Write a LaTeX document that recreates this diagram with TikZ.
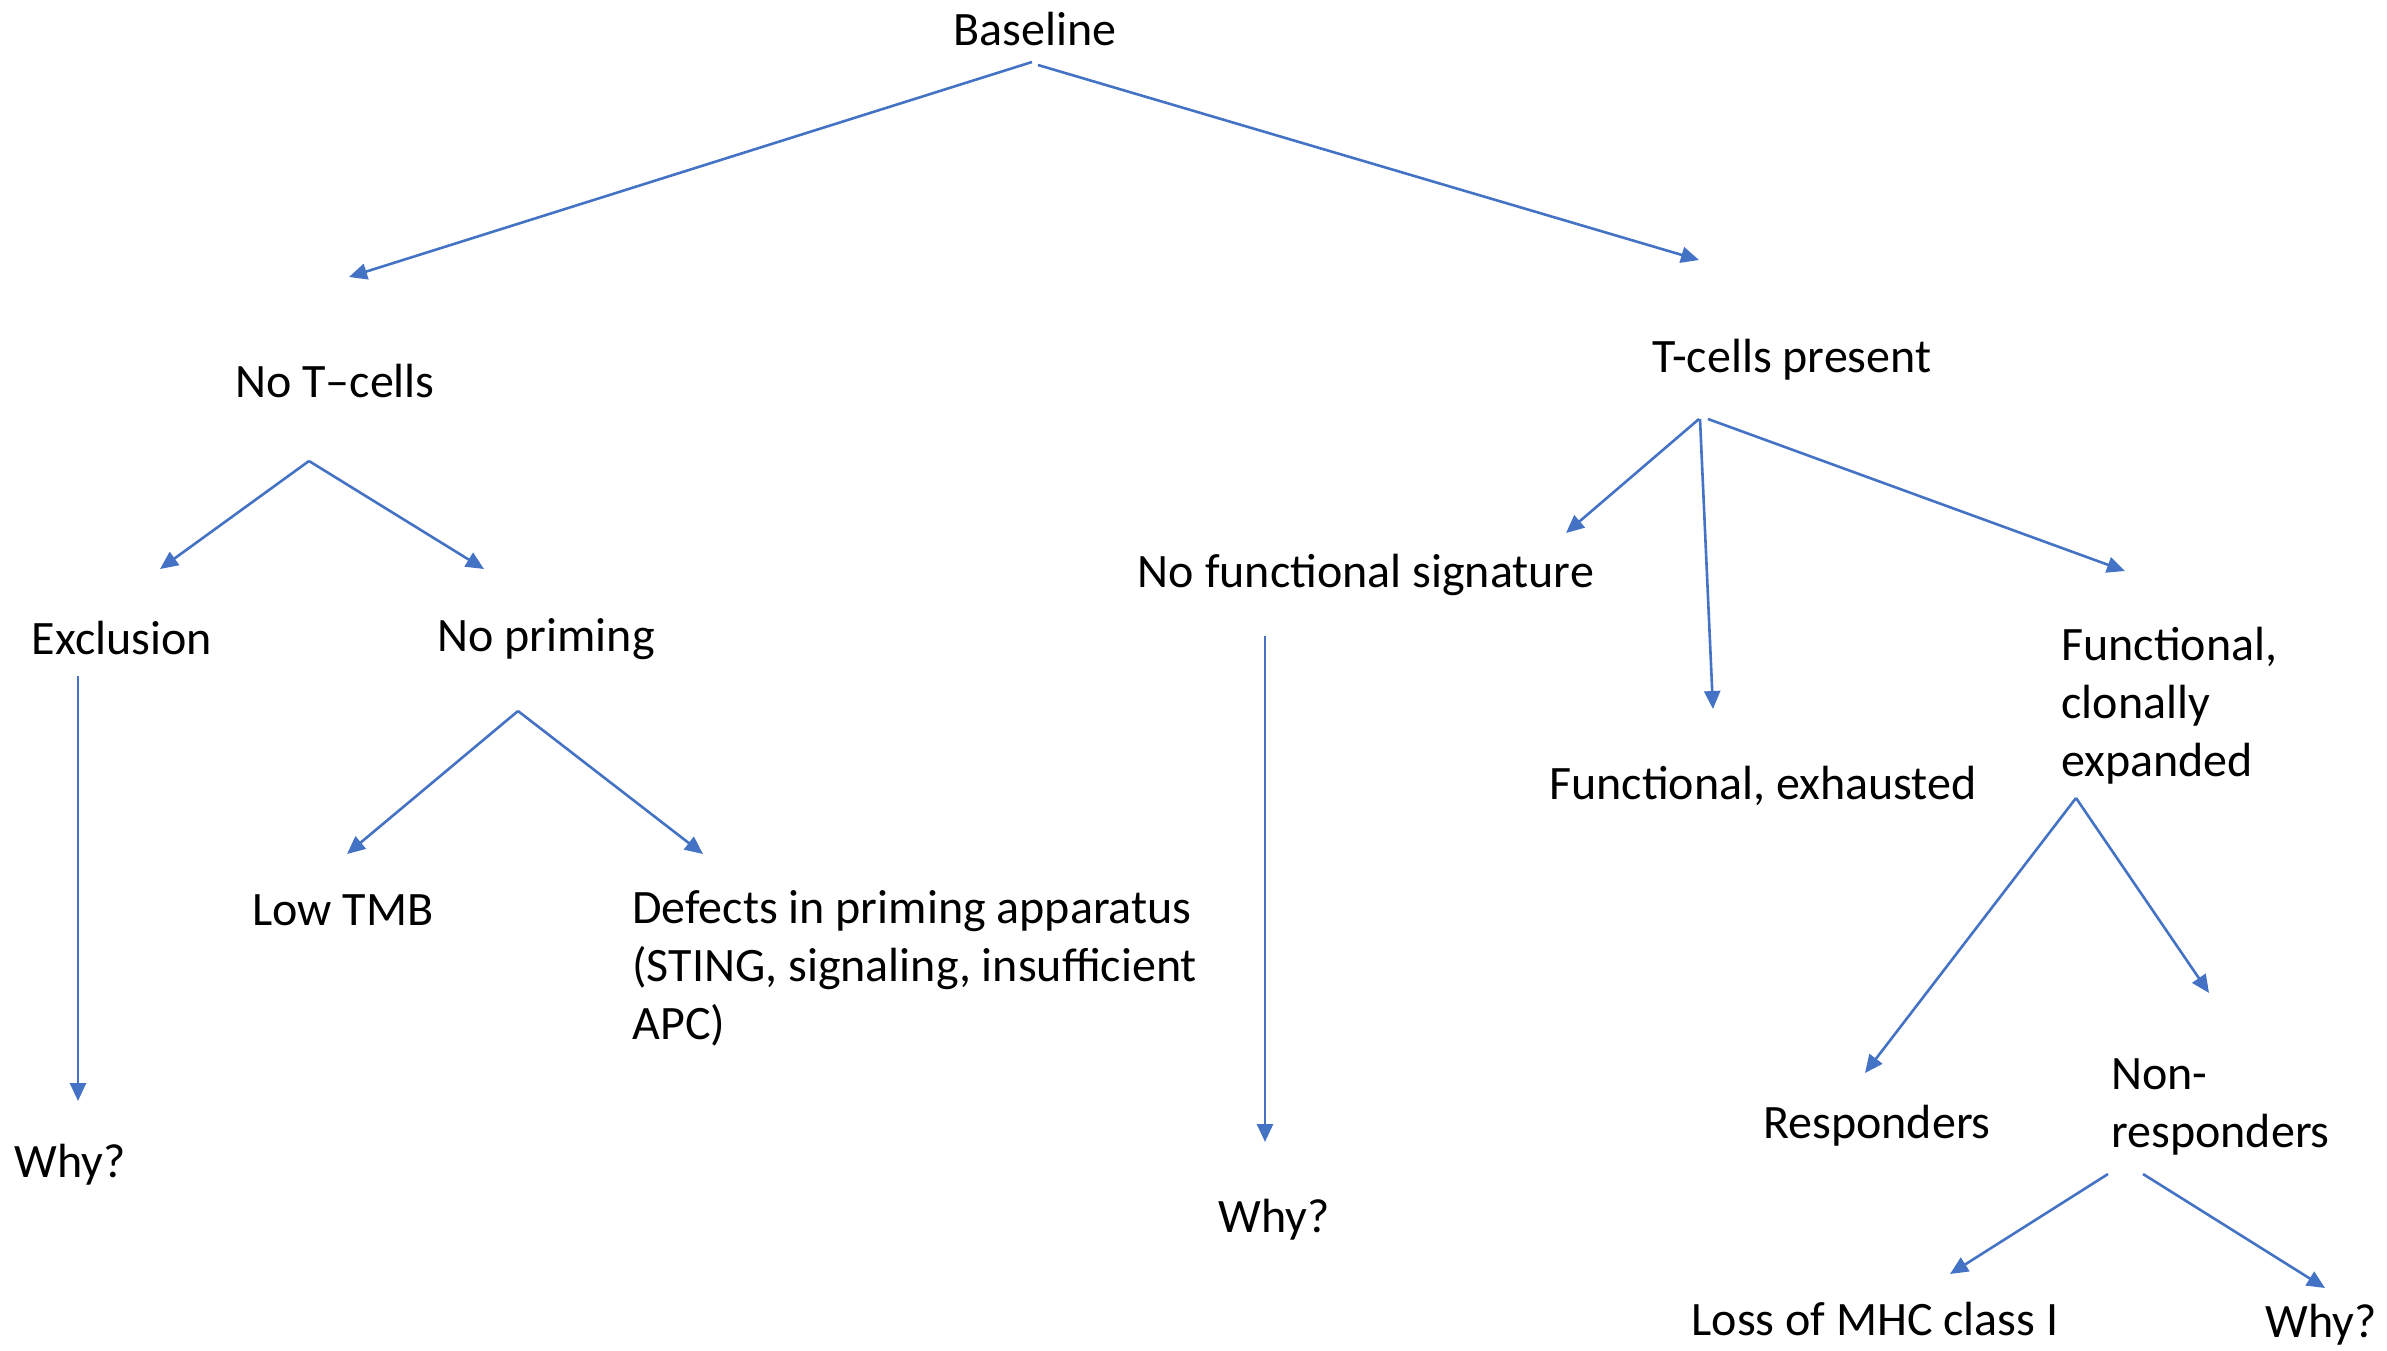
\documentclass[tikz,border=0pt]{standalone}
\usepackage{fontspec}
\setmainfont{Carlito}
\usetikzlibrary{arrows.meta}

\definecolor{linkblue}{HTML}{4472C4}

\begin{document}
\begin{tikzpicture}[x=0.5pt, y=-0.5pt, txt/.style={inner sep=0pt, font=\fontsize{24}{29}\selectfont}, lefttxt/.style={txt, anchor=west, align=left}, n/.style={-{Triangle[length=9pt, width=8pt]}, draw=linkblue, fill=linkblue, line width=1.3pt}]
            \useasboundingbox (0,0) rectangle (2387,1350);
            % nodes
            \node[txt] (base) at (1035,29) {Baseline};

            \node[txt] (notc) at (335,381) {No T–cells};
            \node[txt] (tcp) at (1792,360) {T-cells present};

            \node[txt] (excl) at (122,638) {Exclusion};
            \node[txt] (noprim) at (546,639) {No priming};
            \node[txt] (lowtmb) at (343,910) {Low TMB};
            \node[lefttxt] (defects) at (632,968) {Defects in priming apparatus\\(STING, signaling, insufficient\\APC)};
            \node[txt] (why1) at (70,1165) {Why?};

            \node[txt] (nofunc) at (1366,575) {No functional signature};
            \node[txt] (why2) at (1274,1220) {Why?};
            \node[txt] (exh) at (1763,786) {Functional, exhausted};
            \node[lefttxt] (clonal) at (2061,706) {Functional,\\clonally\\expanded};

            \node[txt] (resp) at (1877,1126) {Responders};
            \node[lefttxt] (nonresp) at (2111,1107) {Non-\\responders};
            \node[txt] (mhc) at (1875,1319) {Loss of MHC class I};
            \node[txt] (why3) at (2321,1325) {Why?};

            % arrow ends
            \coordinate (b1) at (1032,62);
            \coordinate (b2) at (1038,65);
            \coordinate (b1e) at (349,277);
            \coordinate (b2e) at (1699,260);
            \coordinate (n0) at (309,461);
            \coordinate (n1e) at (160,569);
            \coordinate (n2e) at (484,569);
            \coordinate (e0) at (78,676);
            \coordinate (e0e) at (78,1101);
            \coordinate (p0) at (518,711);
            \coordinate (p1e) at (347,854);
            \coordinate (p2e) at (703,854);
            \coordinate (t1) at (1699,419);
            \coordinate (t2) at (1700,419);
            \coordinate (t3) at (1708,419);
            \coordinate (t1e) at (1566,533);
            \coordinate (t2e) at (1713,709);
            \coordinate (t3e) at (2125,571);
            \coordinate (f0) at (1265,636);
            \coordinate (f0e) at (1265,1142);
            \coordinate (c0) at (2076,798);
            \coordinate (c1e) at (1865,1073);
            \coordinate (c2e) at (2209,993);
            \coordinate (r1) at (2108,1174);
            \coordinate (r2) at (2143,1174);
            \coordinate (r1e) at (1950,1274);
            \coordinate (r2e) at (2325,1288);
            % edges
            \draw [n] (b1) -- (b1e);
            \draw [n] (b2) -- (b2e);

            \draw [n] (n0) -- (n1e);
            \draw [n] (n0) -- (n2e);
            \draw [n] (e0) -- (e0e);
            \draw [n] (p0) -- (p1e);
            \draw [n] (p0) -- (p2e);

            \draw [n] (t1) -- (t1e);
            \draw [n] (t2) -- (t2e);
            \draw [n] (t3) -- (t3e);
            \draw [n] (f0) -- (f0e);

            \draw [n] (c0) -- (c1e);
            \draw [n] (c0) -- (c2e);
            \draw [n] (r1) -- (r1e);
            \draw [n] (r2) -- (r2e);
        \end{tikzpicture}
\end{document}
